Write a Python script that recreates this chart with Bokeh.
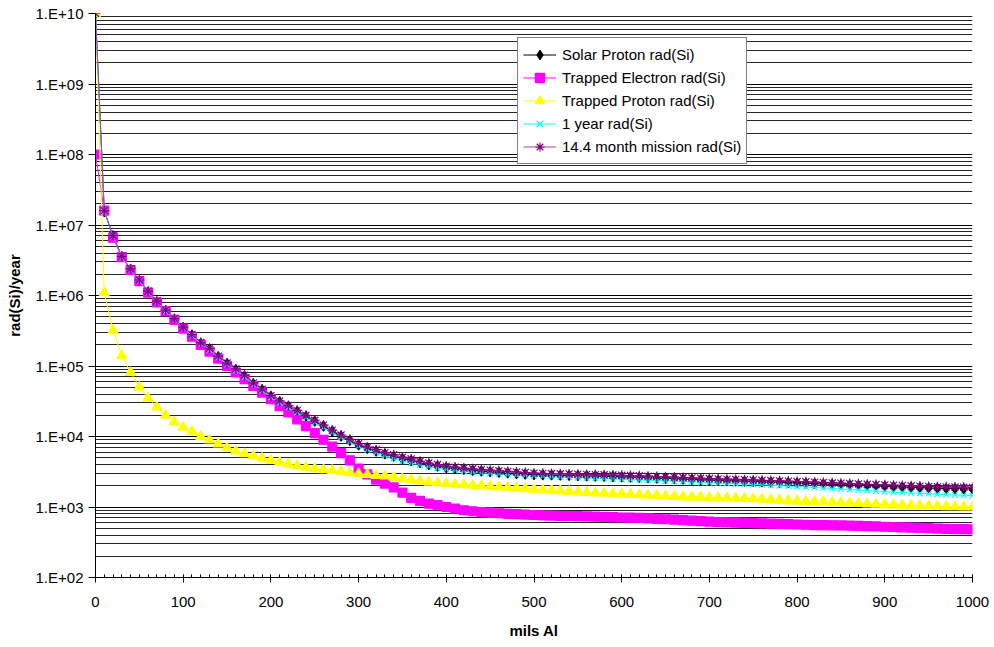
from bokeh.plotting import figure
from bokeh.models import (FixedTicker, CustomJSTickFormatter, Legend, LegendItem,
                          Range1d, ColumnDataSource)
from bokeh.embed import file_html
from bokeh.resources import INLINE

# ---------------- data ----------------
X_MILS = list(range(0, 1001, 10))

SOLAR_PROTON = [
    1.0e10, 1.55e7, 7.0e6, 3.55e6, 2.35e6, 1.62e6, 1.12e6, 8.1e5, 6.1e5, 4.6e5,
    3.5e5, 2.75e5, 2.1e5, 1.74e5, 1.35e5, 1.08e5, 8.9e4, 7.2e4, 5.6e4, 4.6e4,
    3.7e4, 3.1e4, 2.68e4, 2.28e4, 1.94e4, 1.65e4, 1.4e4, 1.19e4, 1.01e4, 8.8e3,
    7.6e3, 6.8e3, 6.2e3, 5.65e3, 5.25e3, 4.85e3, 4.55e3, 4.25e3, 4.0e3, 3.8e3,
    3.62e3, 3.5e3, 3.4e3, 3.31e3, 3.23e3, 3.16e3, 3.1e3, 3.04e3, 2.98e3, 2.93e3,
    2.88e3, 2.86e3, 2.84e3, 2.82e3, 2.8e3, 2.78e3, 2.76e3, 2.74e3, 2.72e3, 2.7e3,
    2.68e3, 2.66e3, 2.63e3, 2.6e3, 2.57e3, 2.55e3, 2.52e3, 2.49e3, 2.46e3, 2.43e3,
    2.4e3, 2.38e3, 2.36e3, 2.34e3, 2.32e3, 2.3e3, 2.27e3, 2.25e3, 2.23e3, 2.21e3,
    2.19e3, 2.17e3, 2.14e3, 2.12e3, 2.09e3, 2.07e3, 2.04e3, 2.02e3, 2.0e3, 1.98e3,
    1.96e3, 1.94e3, 1.92e3, 1.9e3, 1.88e3, 1.86e3, 1.84e3, 1.83e3, 1.82e3, 1.81e3,
    1.8e3]

TRAPPED_ELECTRON = [
    1.0e8, 1.6e7, 6.6e6, 3.5e6, 2.3e6, 1.6e6, 1.1e6, 8.0e5, 6.0e5, 4.5e5,
    3.4e5, 2.6e5, 2.0e5, 1.6e5, 1.27e5, 1.0e5, 8.1e4, 6.5e4, 5.2e4, 4.2e4,
    3.4e4, 2.7e4, 2.2e4, 1.75e4, 1.4e4, 1.12e4, 9.0e3, 7.2e3, 5.8e3, 4.6e3,
    3.5e3, 2.9e3, 2.45e3, 2.15e3, 1.9e3, 1.6e3, 1.35e3, 1.22e3, 1.12e3, 1.06e3,
    1.0e3, 9.5e2, 9.0e2, 8.7e2, 8.5e2, 8.3e2, 8.15e2, 8.0e2, 7.9e2, 7.8e2,
    7.7e2, 7.6e2, 7.55e2, 7.5e2, 7.45e2, 7.4e2, 7.35e2, 7.3e2, 7.25e2, 7.2e2,
    7.1e2, 7.05e2, 7.0e2, 6.9e2, 6.8e2, 6.7e2, 6.6e2, 6.5e2, 6.4e2, 6.3e2,
    6.2e2, 6.1e2, 6.05e2, 6.0e2, 5.95e2, 5.9e2, 5.85e2, 5.8e2, 5.75e2, 5.7e2,
    5.65e2, 5.6e2, 5.55e2, 5.52e2, 5.5e2, 5.48e2, 5.45e2, 5.4e2, 5.35e2, 5.3e2,
    5.25e2, 5.2e2, 5.15e2, 5.1e2, 5.05e2, 5.0e2, 4.95e2, 4.9e2, 4.87e2, 4.84e2,
    4.8e2]

TRAPPED_PROTON = [
    1.0e10, 1.1e6, 3.2e5, 1.4e5, 8.1e4, 5.0e4, 3.5e4, 2.6e4, 2.0e4, 1.6e4,
    1.35e4, 1.18e4, 1.0e4, 8.9e3, 7.8e3, 6.9e3, 6.2e3, 5.7e3, 5.3e3, 4.9e3,
    4.6e3, 4.3e3, 4.05e3, 3.85e3, 3.65e3, 3.5e3, 3.38e3, 3.3e3, 3.2e3, 3.05e3,
    2.95e3, 2.88e3, 2.8e3, 2.75e3, 2.65e3, 2.52e3, 2.42e3, 2.33e3, 2.25e3, 2.2e3,
    2.15e3, 2.1e3, 2.06e3, 2.02e3, 2.0e3, 1.96e3, 1.92e3, 1.88e3, 1.85e3, 1.82e3,
    1.78e3, 1.75e3, 1.72e3, 1.69e3, 1.66e3, 1.63e3, 1.6e3, 1.58e3, 1.56e3, 1.54e3,
    1.53e3, 1.51e3, 1.49e3, 1.47e3, 1.45e3, 1.43e3, 1.41e3, 1.39e3, 1.38e3, 1.37e3,
    1.36e3, 1.35e3, 1.34e3, 1.33e3, 1.32e3, 1.31e3, 1.29e3, 1.27e3, 1.25e3, 1.23e3,
    1.21e3, 1.2e3, 1.19e3, 1.18e3, 1.16e3, 1.15e3, 1.14e3, 1.12e3, 1.1e3, 1.09e3,
    1.08e3, 1.07e3, 1.06e3, 1.05e3, 1.04e3, 1.03e3, 1.02e3, 1.01e3, 1.005e3, 1.0e3,
    1.0e3]

ONE_YEAR = [
    1.0e10, 1.55e7, 7.0e6, 3.5e6, 2.35e6, 1.6e6, 1.12e6, 8.1e5, 6.0e5, 4.6e5,
    3.5e5, 2.7e5, 2.08e5, 1.7e5, 1.33e5, 1.06e5, 8.7e4, 7.0e4, 5.5e4, 4.5e4,
    3.6e4, 3.0e4, 2.58e4, 2.2e4, 1.86e4, 1.58e4, 1.34e4, 1.14e4, 9.7e3, 8.4e3,
    7.3e3, 6.5e3, 5.9e3, 5.35e3, 4.85e3, 4.5e3, 4.2e3, 3.95e3, 3.73e3, 3.55e3,
    3.4e3, 3.3e3, 3.2e3, 3.12e3, 3.05e3, 2.99e3, 2.93e3, 2.88e3, 2.84e3, 2.8e3,
    2.76e3, 2.73e3, 2.7e3, 2.67e3, 2.64e3, 2.61e3, 2.58e3, 2.55e3, 2.53e3, 2.5e3,
    2.47e3, 2.45e3, 2.42e3, 2.4e3, 2.37e3, 2.34e3, 2.32e3, 2.29e3, 2.26e3, 2.23e3,
    2.2e3, 2.18e3, 2.16e3, 2.14e3, 2.12e3, 2.1e3, 2.07e3, 2.04e3, 2.01e3, 1.98e3,
    1.95e3, 1.92e3, 1.89e3, 1.86e3, 1.83e3, 1.8e3, 1.77e3, 1.74e3, 1.71e3, 1.68e3,
    1.65e3, 1.62e3, 1.6e3, 1.58e3, 1.56e3, 1.54e3, 1.52e3, 1.5e3, 1.48e3, 1.47e3,
    1.45e3]

MISSION_14_4 = [
    1.0e10, 1.6e7, 7.1e6, 3.6e6, 2.4e6, 1.66e6, 1.15e6, 8.3e5, 6.2e5, 4.7e5,
    3.55e5, 2.8e5, 2.15e5, 1.78e5, 1.38e5, 1.1e5, 9.1e4, 7.4e4, 5.75e4, 4.7e4,
    3.8e4, 3.2e4, 2.75e4, 2.35e4, 2.0e4, 1.7e4, 1.45e4, 1.23e4, 1.05e4, 9.1e3,
    7.9e3, 7.1e3, 6.5e3, 5.9e3, 5.5e3, 5.1e3, 4.8e3, 4.45e3, 4.2e3, 4.0e3,
    3.8e3, 3.68e3, 3.57e3, 3.48e3, 3.4e3, 3.33e3, 3.26e3, 3.2e3, 3.14e3, 3.08e3,
    3.02e3, 3.0e3, 2.98e3, 2.96e3, 2.94e3, 2.92e3, 2.9e3, 2.88e3, 2.86e3, 2.84e3,
    2.82e3, 2.8e3, 2.77e3, 2.74e3, 2.71e3, 2.68e3, 2.65e3, 2.62e3, 2.59e3, 2.56e3,
    2.53e3, 2.5e3, 2.48e3, 2.46e3, 2.44e3, 2.42e3, 2.39e3, 2.37e3, 2.35e3, 2.33e3,
    2.3e3, 2.28e3, 2.25e3, 2.23e3, 2.2e3, 2.18e3, 2.15e3, 2.13e3, 2.1e3, 2.08e3,
    2.06e3, 2.04e3, 2.02e3, 2.0e3, 1.98e3, 1.96e3, 1.94e3, 1.93e3, 1.92e3, 1.91e3,
    1.9e3]

SERIES_NAMES = ["Solar Proton rad(Si)", "Trapped Electron rad(Si)",
                "Trapped Proton rad(Si)", "1 year rad(Si)",
                "14.4 month mission rad(Si)"]

X_TICKS = [0, 100, 200, 300, 400, 500, 600, 700, 800, 900, 1000]
Y_EXPONENTS = [2, 3, 4, 5, 6, 7, 8, 9, 10]
Y_MANTISSAS = [2, 3, 4, 5, 6, 7, 8, 9]

# ---------------- figure ----------------
FONT = "Liberation Sans"

p = figure(width=994, height=647, y_axis_type="log",
           x_range=Range1d(0, 1000), y_range=Range1d(1e2, 1e10),
           output_backend="svg", toolbar_location=None,
           min_border_left=95, min_border_right=22,
           min_border_top=13, min_border_bottom=70)
p.outline_line_color = None
p.background_fill_color = "white"
p.border_fill_color = "white"

major_y = [10.0 ** e for e in Y_EXPONENTS]
minor_y = [m * 10.0 ** e for e in Y_EXPONENTS[:-1] for m in Y_MANTISSAS]
p.yaxis.ticker = FixedTicker(ticks=major_y, minor_ticks=minor_y)
p.yaxis.formatter = CustomJSTickFormatter(code="""
    const e = Math.round(Math.log10(tick));
    return '1.E+' + (e < 10 ? '0' + e : '' + e);
""")
p.xaxis.ticker = FixedTicker(ticks=X_TICKS,
                             minor_ticks=list(range(0, 1001, 10)))

p.xgrid.grid_line_color = None
p.ygrid.grid_line_color = "black"
p.ygrid.grid_line_width = 1
p.ygrid.minor_grid_line_color = "black"
p.ygrid.minor_grid_line_width = 1
p.ygrid.minor_grid_line_alpha = 0.85

for ax in (p.xaxis, p.yaxis):
    ax.axis_line_color = "black"
    ax.axis_line_width = 1
    ax.major_tick_line_color = "black"
    ax.minor_tick_line_color = "black"
    ax.major_label_text_font = FONT
    ax.major_label_text_font_size = "15px"
    ax.major_label_text_color = "black"
    ax.axis_label_text_font = FONT
    ax.axis_label_text_font_size = "15px"
    ax.axis_label_text_font_style = "bold"
    ax.axis_label_text_color = "black"

p.xaxis.major_tick_in = 3
p.xaxis.major_tick_out = 5
p.xaxis.minor_tick_in = 3
p.xaxis.minor_tick_out = 0
p.xaxis.major_label_standoff = 14
p.xaxis.axis_label = "mils Al"
p.xaxis.axis_label_standoff = 12

p.yaxis.major_tick_in = 0
p.yaxis.major_tick_out = 7
p.yaxis.minor_tick_in = 0
p.yaxis.minor_tick_out = 0
p.yaxis.major_label_standoff = 5
p.yaxis.axis_label = "rad(Si)/year"
p.yaxis.axis_label_standoff = 10

src = ColumnDataSource(dict(x=X_MILS, sp=SOLAR_PROTON, te=TRAPPED_ELECTRON,
                            tp=TRAPPED_PROTON, oy=ONE_YEAR, mm=MISSION_14_4))

styles = [
    ("sp", "black", "#000000", "diamond", 10),
    ("te", "#FF00FF", "#FF00FF", "square", 9),
    ("tp", "#FFFF00", "#FFFF00", "triangle", 10),
    ("oy", "#00FFFF", "#00FFFF", "x", 8),
    ("mm", "#B040B0", "#800080", "asterisk", 10),
]

items = []
for (col, lcol, mcol, marker, size), name in zip(styles, SERIES_NAMES):
    ln = p.line("x", col, source=src, line_color=lcol, line_width=1)
    sc = p.scatter("x", col, source=src, marker=marker, size=size,
                   fill_color=mcol, line_color=mcol, line_width=1.2)
    items.append(LegendItem(label=name, renderers=[ln, sc]))

legend = Legend(items=items, location=(422, 413), orientation="vertical",
                padding=5, spacing=0, margin=0,
                glyph_width=33, glyph_height=23, label_height=23,
                label_standoff=6,
                label_text_font=FONT, label_text_font_size="15px",
                label_text_color="black",
                border_line_color="black", border_line_width=1,
                background_fill_color="white", background_fill_alpha=1)
p.add_layout(legend, "center")

open("out.html", "w").write(file_html(p, INLINE))
